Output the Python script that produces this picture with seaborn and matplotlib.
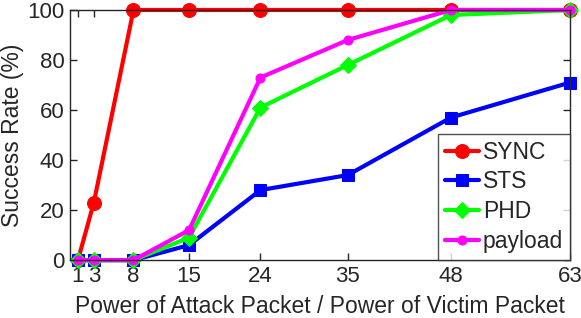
import pandas as pd
import matplotlib
matplotlib.use("Agg")
import matplotlib.pyplot as plt
import seaborn as sns

# data
power_ratio = [1, 3, 8, 15, 24, 35, 48, 63]
sync = [0, 23, 100, 100, 100, 100, 100, 100]
sts = [0, 0, 0, 6, 28, 34, 57, 71]
phd = [0, 0, 0, 9, 61, 78, 98, 100]
payload = [0, 0, 0, 12, 73, 88, 100, 100]

series_names = ["SYNC", "STS", "PHD", "payload"]

df = pd.DataFrame({
    "x": power_ratio * len(series_names),
    "y": sync + sts + phd + payload,
    "Method": [n for n in series_names for _ in power_ratio],
})

sns.set_theme(style="ticks")
plt.rcParams["font.family"] = ["Liberation Sans", "DejaVu Sans"]

fig = plt.figure(figsize=(5.81, 3.18), dpi=100)
ax = fig.add_axes([0.1205, 0.182, 0.8605, 0.7866])

palette = {"SYNC": "#ff0000", "STS": "#0000ff", "PHD": "#00ff00", "payload": "#ff00ff"}
markers = {"SYNC": "o", "STS": "s", "PHD": "D", "payload": "o"}
msizes = {"SYNC": 10, "STS": 8.5, "PHD": 8.5, "payload": 6.5}

for name in series_names:
    sub = df[df["Method"] == name]
    sns.lineplot(data=sub, x="x", y="y", color=palette[name], marker=markers[name],
                 markersize=msizes[name], markeredgecolor=palette[name], linewidth=3,
                 label=name, ax=ax, clip_on=False)

ax.set_xlim(0, 63)
ax.set_ylim(0, 100)
ax.set_xticks(power_ratio)
ax.set_yticks([0, 20, 40, 60, 80, 100])
ax.set_xlabel("Power of Attack Packet / Power of Victim Packet", fontsize=16.5, color="#262626", labelpad=6)
ax.set_ylabel("Success Rate (%)", fontsize=16.5, color="#262626", labelpad=2)
ax.tick_params(axis="both", direction="in", length=5, width=1, labelsize=16,
               colors="#262626", top=True, right=True, pad=4)
for s in ax.spines.values():
    s.set_color("#262626")
    s.set_linewidth(1)

leg = ax.legend(loc="lower right", fontsize=16.5, frameon=True, fancybox=False,
                handlelength=1.5, handletextpad=0.15, borderaxespad=0.0,
                labelspacing=0.3, borderpad=0.3)
leg.get_frame().set_edgecolor("#262626")
leg.get_frame().set_linewidth(1)

fig.savefig("out.png", dpi=100)
